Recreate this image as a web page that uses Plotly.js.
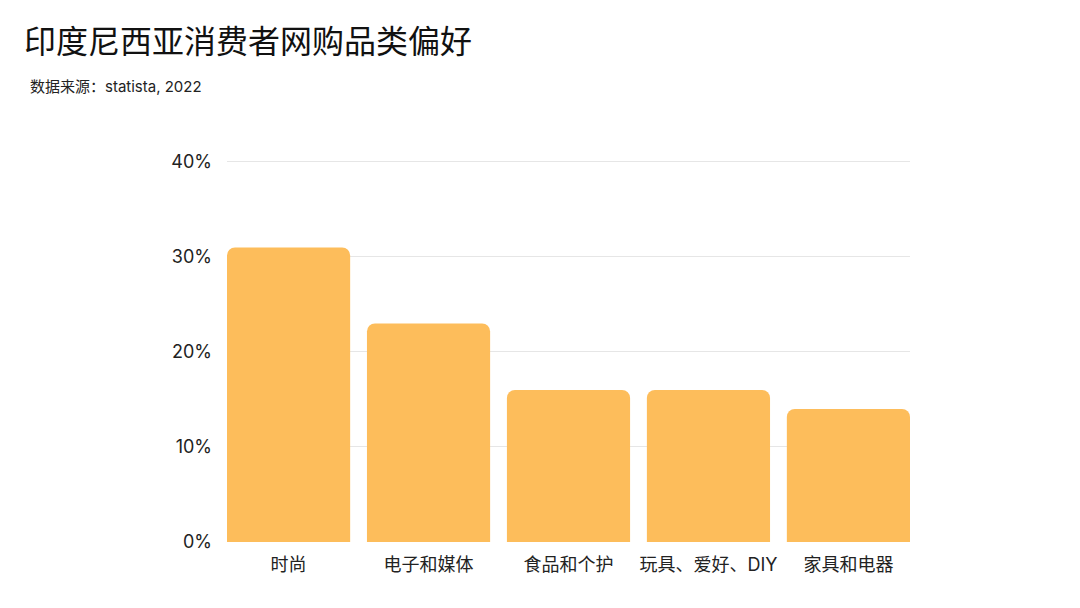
<!DOCTYPE html>
<html lang="zh">
  <head>
    <meta charset="UTF-8" />
    <title>印度尼西亚消费者网购品类偏好</title>
    <script src="https://cdn.plot.ly/plotly-3.0.1.min.js"></script>
    <style>
      html, body { margin: 0; padding: 0; background: #fff; }
      #chart { width: 1080px; height: 608px; }
    </style>
  </head>
  <body>
    <div id="chart"></div>
    <script>
      // 数据
      const categories = ["时尚", "电子和媒体", "食品和个护", "玩具、爱好、DIY", "家具和电器"];
      const shares = [31, 23, 16, 16, 14];
      const tickValues = [0, 10, 20, 30, 40];
      const tickLabels = ["0%", "10%", "20%", "30%", "40%"];

      const font = 'Inter, "Noto Sans CJK SC", sans-serif';
      const gap = 0.12;

      const trace = {
        type: "bar",
        x: categories,
        y: shares,
        marker: { color: "#FDBD5B" },
        hoverinfo: "x+y",
      };

      const layout = {
        width: 1080,
        height: 608,
        margin: { l: 227, r: 170, t: 160, b: 66 },
        paper_bgcolor: "#fff",
        plot_bgcolor: "#fff",
        font: { family: font, color: "#222" },
        bargap: gap,
        barcornerradius: 8,
        showlegend: false,
        title: {
          text: "印度尼西亚消费者网购品类偏好",
          font: { family: font, size: 32, color: "#111" },
          x: 24 / 1080,
          xref: "container",
          xanchor: "left",
          y: 1 - 42 / 608,
          yref: "container",
          yanchor: "middle",
        },
        annotations: [
          {
            text: "数据来源：statista, 2022",
            xref: "paper",
            yref: "paper",
            x: (28 - 227) / 683,
            y: (542 - 86) / 382,
            xanchor: "left",
            yanchor: "middle",
            showarrow: false,
            font: { family: font, size: 15, color: "#222" },
          },
        ],
        xaxis: {
          type: "category",
          range: [-0.5 + gap / 2, categories.length - 0.5 - gap / 2],
          showgrid: false,
          showline: false,
          ticks: "",
          ticklabelstandoff: 10,
          tickfont: { family: font, size: 18, color: "#222" },
          fixedrange: true,
        },
        yaxis: {
          range: [0, 40.2],
          tickvals: tickValues,
          ticktext: tickLabels,
          showgrid: true,
          gridcolor: "#e6e6e6",
          gridwidth: 1,
          zeroline: false,
          showline: false,
          ticks: "",
          ticklabelstandoff: 14,
          tickfont: { family: font, size: 18, color: "#222" },
          fixedrange: true,
        },
      };

      Plotly.newPlot("chart", [trace], layout, { displayModeBar: false, staticPlot: true });
    </script>
  </body>
</html>
